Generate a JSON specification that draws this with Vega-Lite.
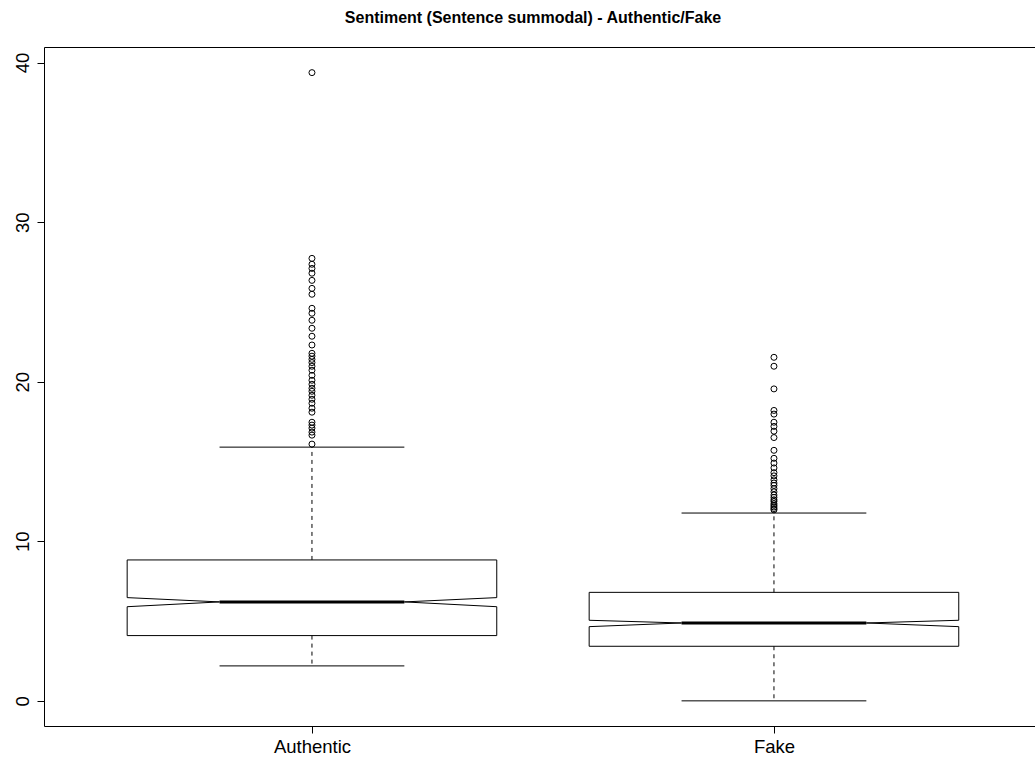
{
  "$schema": "https://vega.github.io/schema/vega-lite/v6.json",
  "autosize": {"type": "none"},
  "width": 992,
  "height": 679,
  "padding": {"left": 44, "top": 47, "right": 0, "bottom": 31},
  "background": "white",
  "title": {
    "text": "Sentiment (Sentence summodal) - Authentic/Fake",
    "font": "Liberation Sans",
    "fontSize": 16,
    "fontWeight": "bold",
    "color": "#000",
    "anchor": "middle",
    "frame": "group",
    "dx": -7,
    "offset": 21
  },
  "config": {
    "font": "Liberation Sans",
    "view": {"stroke": "#000", "strokeWidth": 1},
    "axis": {
      "grid": false,
      "domain": false,
      "tickColor": "#000",
      "tickSize": 7,
      "labelColor": "#000",
      "labelFont": "Liberation Sans",
      "labelFontSize": 18.5,
      "title": null
    }
  },
  "datasets": {
    "boxes": [
      {"group": "Authentic", "lo": 2.19, "q1": 4.09, "notch_lo": 5.9, "median": 6.2, "notch_hi": 6.47, "q3": 8.83, "hi": 15.9},
      {"group": "Fake", "lo": 0.0, "q1": 3.42, "notch_lo": 4.65, "median": 4.88, "notch_hi": 5.05, "q3": 6.8, "hi": 11.77}
    ],
    "outliers": [
      {"group": "Authentic", "value": 39.37},
      {"group": "Authentic", "value": 27.73},
      {"group": "Authentic", "value": 27.36},
      {"group": "Authentic", "value": 27.1},
      {"group": "Authentic", "value": 26.8},
      {"group": "Authentic", "value": 26.35},
      {"group": "Authentic", "value": 25.85},
      {"group": "Authentic", "value": 25.48},
      {"group": "Authentic", "value": 24.6},
      {"group": "Authentic", "value": 24.29},
      {"group": "Authentic", "value": 23.85},
      {"group": "Authentic", "value": 23.35},
      {"group": "Authentic", "value": 22.85},
      {"group": "Authentic", "value": 22.3},
      {"group": "Authentic", "value": 21.78},
      {"group": "Authentic", "value": 21.6},
      {"group": "Authentic", "value": 21.4},
      {"group": "Authentic", "value": 21.2},
      {"group": "Authentic", "value": 20.97},
      {"group": "Authentic", "value": 20.72},
      {"group": "Authentic", "value": 20.4},
      {"group": "Authentic", "value": 20.09},
      {"group": "Authentic", "value": 19.84},
      {"group": "Authentic", "value": 19.59},
      {"group": "Authentic", "value": 19.4},
      {"group": "Authentic", "value": 19.15},
      {"group": "Authentic", "value": 18.9},
      {"group": "Authentic", "value": 18.65},
      {"group": "Authentic", "value": 18.34},
      {"group": "Authentic", "value": 18.09},
      {"group": "Authentic", "value": 17.46},
      {"group": "Authentic", "value": 17.28},
      {"group": "Authentic", "value": 17.09},
      {"group": "Authentic", "value": 16.84},
      {"group": "Authentic", "value": 16.65},
      {"group": "Authentic", "value": 16.09},
      {"group": "Fake", "value": 21.53},
      {"group": "Fake", "value": 20.97},
      {"group": "Fake", "value": 19.55},
      {"group": "Fake", "value": 18.2},
      {"group": "Fake", "value": 17.97},
      {"group": "Fake", "value": 17.46},
      {"group": "Fake", "value": 17.2},
      {"group": "Fake", "value": 16.9},
      {"group": "Fake", "value": 16.5},
      {"group": "Fake", "value": 15.7},
      {"group": "Fake", "value": 15.2},
      {"group": "Fake", "value": 14.9},
      {"group": "Fake", "value": 14.6},
      {"group": "Fake", "value": 14.3},
      {"group": "Fake", "value": 14.1},
      {"group": "Fake", "value": 13.85},
      {"group": "Fake", "value": 13.65},
      {"group": "Fake", "value": 13.5},
      {"group": "Fake", "value": 13.3},
      {"group": "Fake", "value": 13.1},
      {"group": "Fake", "value": 12.9},
      {"group": "Fake", "value": 12.75},
      {"group": "Fake", "value": 12.6},
      {"group": "Fake", "value": 12.5},
      {"group": "Fake", "value": 12.35},
      {"group": "Fake", "value": 12.25},
      {"group": "Fake", "value": 12.15},
      {"group": "Fake", "value": 12.05},
      {"group": "Fake", "value": 11.97}
    ]
  },
  "data": {"name": "boxes"},
  "transform": [
    {"calculate": "datum.group === 'Authentic' ? 1 : 2", "as": "idx"},
    {"calculate": "datum.idx - 0.4", "as": "xl"},
    {"calculate": "datum.idx + 0.4", "as": "xr"},
    {"calculate": "datum.idx - 0.2", "as": "xnl"},
    {"calculate": "datum.idx + 0.2", "as": "xnr"}
  ],
  "layer": [
    {
      "mark": {"type": "rule", "color": "#000", "strokeWidth": 1},
      "encoding": {
        "x": {
          "field": "xl", "type": "quantitative",
          "scale": {"domain": [0.42, 2.5672], "nice": false, "zero": false},
          "axis": {"values": [1, 2], "labelExpr": "datum.value === 1 ? 'Authentic' : 'Fake'", "labelPadding": 4}
        },
        "x2": {"field": "xr"},
        "y": {
          "field": "q3", "type": "quantitative",
          "scale": {"domain": [-1.576, 40.976], "nice": false, "zero": false},
          "axis": {"values": [0, 10, 20, 30, 40], "labelAngle": -90, "labelAlign": "center", "labelBaseline": "bottom", "labelPadding": 5}
        }
      }
    },
    {
      "mark": {"type": "rule", "color": "#000", "strokeWidth": 1},
      "encoding": {
        "x": {"field": "xl", "type": "quantitative", "scale": {"domain": [0.42, 2.5672], "nice": false, "zero": false}},
        "x2": {"field": "xr"},
        "y": {"field": "q1", "type": "quantitative", "scale": {"domain": [-1.576, 40.976], "nice": false, "zero": false}}
      }
    },
    {
      "mark": {"type": "rule", "color": "#000", "strokeWidth": 1},
      "encoding": {
        "x": {"field": "xl", "type": "quantitative", "scale": {"domain": [0.42, 2.5672], "nice": false, "zero": false}},
        "y": {"field": "q3", "type": "quantitative", "scale": {"domain": [-1.576, 40.976], "nice": false, "zero": false}},
        "y2": {"field": "notch_hi"}
      }
    },
    {
      "mark": {"type": "rule", "color": "#000", "strokeWidth": 1},
      "encoding": {
        "x": {"field": "xr", "type": "quantitative", "scale": {"domain": [0.42, 2.5672], "nice": false, "zero": false}},
        "y": {"field": "q3", "type": "quantitative", "scale": {"domain": [-1.576, 40.976], "nice": false, "zero": false}},
        "y2": {"field": "notch_hi"}
      }
    },
    {
      "mark": {"type": "rule", "color": "#000", "strokeWidth": 1},
      "encoding": {
        "x": {"field": "xl", "type": "quantitative", "scale": {"domain": [0.42, 2.5672], "nice": false, "zero": false}},
        "y": {"field": "notch_lo", "type": "quantitative", "scale": {"domain": [-1.576, 40.976], "nice": false, "zero": false}},
        "y2": {"field": "q1"}
      }
    },
    {
      "mark": {"type": "rule", "color": "#000", "strokeWidth": 1},
      "encoding": {
        "x": {"field": "xr", "type": "quantitative", "scale": {"domain": [0.42, 2.5672], "nice": false, "zero": false}},
        "y": {"field": "notch_lo", "type": "quantitative", "scale": {"domain": [-1.576, 40.976], "nice": false, "zero": false}},
        "y2": {"field": "q1"}
      }
    },
    {
      "mark": {"type": "rule", "color": "#000", "strokeWidth": 1},
      "encoding": {
        "x": {"field": "xl", "type": "quantitative", "scale": {"domain": [0.42, 2.5672], "nice": false, "zero": false}},
        "x2": {"field": "xnl"},
        "y": {"field": "notch_hi", "type": "quantitative", "scale": {"domain": [-1.576, 40.976], "nice": false, "zero": false}},
        "y2": {"field": "median"}
      }
    },
    {
      "mark": {"type": "rule", "color": "#000", "strokeWidth": 1},
      "encoding": {
        "x": {"field": "xl", "type": "quantitative", "scale": {"domain": [0.42, 2.5672], "nice": false, "zero": false}},
        "x2": {"field": "xnl"},
        "y": {"field": "notch_lo", "type": "quantitative", "scale": {"domain": [-1.576, 40.976], "nice": false, "zero": false}},
        "y2": {"field": "median"}
      }
    },
    {
      "mark": {"type": "rule", "color": "#000", "strokeWidth": 1},
      "encoding": {
        "x": {"field": "xr", "type": "quantitative", "scale": {"domain": [0.42, 2.5672], "nice": false, "zero": false}},
        "x2": {"field": "xnr"},
        "y": {"field": "notch_hi", "type": "quantitative", "scale": {"domain": [-1.576, 40.976], "nice": false, "zero": false}},
        "y2": {"field": "median"}
      }
    },
    {
      "mark": {"type": "rule", "color": "#000", "strokeWidth": 1},
      "encoding": {
        "x": {"field": "xr", "type": "quantitative", "scale": {"domain": [0.42, 2.5672], "nice": false, "zero": false}},
        "x2": {"field": "xnr"},
        "y": {"field": "notch_lo", "type": "quantitative", "scale": {"domain": [-1.576, 40.976], "nice": false, "zero": false}},
        "y2": {"field": "median"}
      }
    },
    {
      "mark": {"type": "rule", "color": "#000", "strokeWidth": 3},
      "encoding": {
        "x": {"field": "xnl", "type": "quantitative", "scale": {"domain": [0.42, 2.5672], "nice": false, "zero": false}},
        "x2": {"field": "xnr"},
        "y": {"field": "median", "type": "quantitative", "scale": {"domain": [-1.576, 40.976], "nice": false, "zero": false}}
      }
    },
    {
      "mark": {"type": "rule", "color": "#000", "strokeWidth": 1, "strokeDash": [4, 4]},
      "encoding": {
        "x": {"field": "idx", "type": "quantitative", "scale": {"domain": [0.42, 2.5672], "nice": false, "zero": false}},
        "y": {"field": "q3", "type": "quantitative", "scale": {"domain": [-1.576, 40.976], "nice": false, "zero": false}},
        "y2": {"field": "hi"}
      }
    },
    {
      "mark": {"type": "rule", "color": "#000", "strokeWidth": 1, "strokeDash": [4, 4]},
      "encoding": {
        "x": {"field": "idx", "type": "quantitative", "scale": {"domain": [0.42, 2.5672], "nice": false, "zero": false}},
        "y": {"field": "q1", "type": "quantitative", "scale": {"domain": [-1.576, 40.976], "nice": false, "zero": false}},
        "y2": {"field": "lo"}
      }
    },
    {
      "mark": {"type": "rule", "color": "#000", "strokeWidth": 1},
      "encoding": {
        "x": {"field": "xnl", "type": "quantitative", "scale": {"domain": [0.42, 2.5672], "nice": false, "zero": false}},
        "x2": {"field": "xnr"},
        "y": {"field": "hi", "type": "quantitative", "scale": {"domain": [-1.576, 40.976], "nice": false, "zero": false}}
      }
    },
    {
      "mark": {"type": "rule", "color": "#000", "strokeWidth": 1},
      "encoding": {
        "x": {"field": "xnl", "type": "quantitative", "scale": {"domain": [0.42, 2.5672], "nice": false, "zero": false}},
        "x2": {"field": "xnr"},
        "y": {"field": "lo", "type": "quantitative", "scale": {"domain": [-1.576, 40.976], "nice": false, "zero": false}}
      }
    },
    {
      "data": {"name": "outliers"},
      "transform": [
        {"calculate": "datum.group === 'Authentic' ? 1 : 2", "as": "idx"}
      ],
      "mark": {"type": "point", "shape": "circle", "filled": false, "color": "#000", "strokeWidth": 1, "size": 36, "opacity": 1},
      "encoding": {
        "x": {"field": "idx", "type": "quantitative", "scale": {"domain": [0.42, 2.5672], "nice": false, "zero": false}},
        "y": {"field": "value", "type": "quantitative", "scale": {"domain": [-1.576, 40.976], "nice": false, "zero": false}}
      }
    }
  ]
}
